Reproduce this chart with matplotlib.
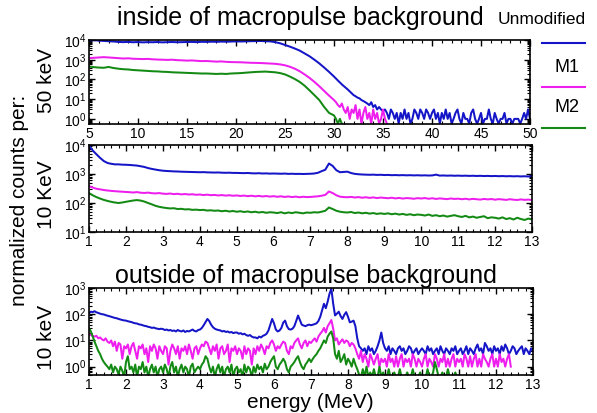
import numpy as np
import matplotlib
matplotlib.use('Agg')
import matplotlib.pyplot as plt
from matplotlib.ticker import MultipleLocator, LogLocator, NullFormatter
from matplotlib.lines import Line2D

plt.rcParams['font.family'] = ['Liberation Sans', 'DejaVu Sans']
plt.rcParams['mathtext.fontset'] = 'custom'
plt.rcParams['mathtext.rm'] = 'Liberation Sans'
plt.rcParams['mathtext.it'] = 'Liberation Sans:italic'
plt.rcParams['mathtext.bf'] = 'Liberation Sans:bold'

# ---------------- data ----------------
series_names = ['Unmodified', 'M1', 'M2']
series_colors = ['#1515c8', '#ee1eee', '#138a13']

# Top panel (inside macropulse, 50 keV bins): coarse part 5-29.5 MeV, fine part from 30 MeV
top_coarse_start, top_coarse_step = 5.0, 0.5
top_fine_start, top_fine_step = 30.0, 0.2

top_unmod_coarse = [9500, 9800, 9300, 9000, 8800, 8400, 8000, 7800, 8000, 7700,
                    7900, 7600, 7800, 7700, 7900, 7600, 7800, 7900, 7700, 7800,
                    7900, 8000, 7800, 8100, 8000, 8200, 8100, 8300, 8200, 8400,
                    8500, 8400, 8600, 8700, 8800, 8900, 8700, 8500, 7800, 6800,
                    5600, 4600, 3700, 2900, 2100, 1500, 1000, 650, 400, 240]
top_unmod_fine = [140, 110, 88, 70, 56, 46, 38, 31, 25, 20,
                  16, 14, 12, 11, 9, 8, 7, 6, 5, 7,
                  4, 5, 3, 4, 3, 2.5, 3, 2, 1, 3,
                  2, 1, 2, 0.57, 2, 1, 3, 1, 2, 0.57,
                  1, 3, 2, 1, 3, 2, 1, 3, 2, 1,
                  2, 3, 1, 2, 0.57, 2, 1, 3, 1, 2,
                  0.57, 1, 2, 3, 1, 0.57, 2, 1, 1, 0.57,
                  2, 3, 1, 0.57, 1, 2, 0.57, 1, 1, 3,
                  1, 0.57, 2, 1, 0.57, 1, 1, 2, 0.57, 1,
                  1, 0.57, 1, 1, 1, 0.57, 1, 2, 1, 3,
                  1]
top_m1_coarse = [1200, 1250, 1300, 1350, 1300, 1250, 1200, 1150, 1180, 1120,
                 1100, 1080, 1100, 1050, 1020, 1000, 980, 1000, 950, 930,
                 900, 920, 880, 850, 860, 830, 800, 820, 780, 760,
                 750, 740, 720, 700, 690, 680, 660, 640, 620, 580,
                 520, 440, 350, 260, 180, 120, 75, 45, 26, 15]
top_m1_fine = [9, 7, 5, 4, 6, 3, 2, 4, 1, 3,
               2, 5, 1, 3, 0.57, 2, 4, 1, 2, 0.57,
               3, 1, 2, 0.57, 1, 3, 1, 0.57]
top_m2_coarse = [450, 420, 400, 390, 430, 380, 350, 330, 320, 300,
                 290, 280, 270, 260, 255, 245, 240, 230, 225, 220,
                 215, 210, 205, 200, 200, 195, 190, 195, 190, 200,
                 205, 210, 220, 230, 240, 245, 250, 240, 230, 210,
                 180, 140, 105, 75, 48, 28, 16, 9, 4, 2]
top_m2_fine = [1.5, 1, 0.57, 1, 0.57]

# Middle panel (inside macropulse, 10 keV bins), 1-13 MeV at 0.1 MeV
mid_start, mid_step = 1.0, 0.1
mid_unmod = [9500, 6500, 4800, 3600, 2800, 2400, 2250, 2150, 2150, 2100,
             2080, 2050, 2000, 1950, 1850, 1750, 1600, 1500, 1420, 1350,
             1300, 1270, 1250, 1230, 1220, 1200, 1190, 1180, 1170, 1160,
             1150, 1160, 1140, 1130, 1120, 1130, 1110, 1100, 1110, 1090,
             1090, 1080, 1070, 1085, 1060, 1050, 1065, 1040, 1050, 1030,
             1040, 1030, 1020, 1035, 1010, 1020, 1005, 1010, 1000, 1010,
             1020, 1040, 1100, 1250, 1400, 2300, 1900, 1350, 1150, 1180,
             1200, 1080, 1010, 980, 960, 950, 940, 950, 930, 940,
             920, 930, 910, 920, 905, 915, 900, 910, 895, 905,
             890, 900, 885, 895, 950, 880, 890, 875, 885, 870,
             880, 865, 875, 860, 870, 855, 865, 850, 860, 845,
             855, 840, 850, 835, 845, 830, 840, 825, 835, 820,
             850]
mid_m1 = [380, 340, 310, 295, 280, 270, 262, 255, 250, 245,
          240, 236, 230, 238, 226, 222, 228, 218, 214, 220,
          210, 206, 212, 202, 208, 198, 204, 196, 200, 192,
          196, 188, 194, 186, 190, 182, 188, 180, 185, 178,
          182, 175, 180, 172, 178, 170, 176, 168, 174, 166,
          172, 164, 170, 162, 168, 160, 166, 158, 164, 160,
          162, 166, 170, 178, 190, 250, 220, 185, 165, 160,
          158, 162, 155, 160, 152, 158, 150, 156, 148, 154,
          150, 146, 152, 144, 150, 142, 148, 145, 140, 147,
          143, 148, 140, 146, 138, 144, 140, 136, 143, 138,
          141, 135, 140, 133, 139, 135, 131, 138, 133, 137,
          130, 136, 132, 128, 135, 130, 127, 133, 128, 131,
          126]
mid_m2 = [220, 185, 160, 142, 128, 118, 110, 104, 100, 104,
          110, 116, 122, 126, 121, 112, 100, 90, 80, 74,
          70, 67, 65, 66, 62, 63, 60, 61, 58, 59,
          57, 58, 55, 56, 54, 55, 52, 54, 51, 53,
          50, 52, 49, 51, 48, 50, 47, 49, 46, 48,
          47, 45, 48, 44, 47, 45, 48, 46, 44, 47,
          46, 48, 47, 50, 54, 70, 62, 54, 50, 48,
          47, 49, 45, 47, 44, 46, 43, 45, 42, 44,
          42, 44, 41, 43, 40, 42, 39, 41, 38, 40,
          39, 37, 40, 36, 38, 35, 37, 34, 36, 38,
          35, 33, 36, 32, 34, 31, 33, 35, 30, 32,
          31, 29, 32, 28, 30, 27, 31, 28, 26, 29,
          27]

# Bottom panel (outside macropulse, 10 keV bins), from 1 MeV at 0.05 MeV
bot_start, bot_step = 1.0, 0.05
bot_unmod = [110, 125, 120, 130, 118, 112, 105, 100, 98, 92, 88, 85, 80, 76, 72, 70, 66, 63, 60, 58,
             57, 54, 52, 50, 47, 45, 44, 41, 40, 38, 36, 35, 33, 32, 30, 31, 29, 28, 27, 28,
             27, 25, 26, 24, 25, 23, 24, 22, 25, 23, 22, 24, 21, 23, 22, 24, 26, 23, 22, 25,
             26, 30, 38, 50, 66, 55, 40, 32, 28, 26, 25, 24, 22, 23, 21, 22, 20, 21, 19, 20,
             20, 18, 19, 17, 18, 16, 15, 16, 14, 13, 13, 12, 14, 13, 15, 16, 18, 24, 40, 66,
             45, 26, 22, 24, 30, 48, 57, 35, 27, 26, 28, 35, 55, 89, 60, 40, 37, 35, 38, 40,
             38, 40, 42, 45, 55, 80, 140, 250, 170, 300, 600, 940, 250, 90, 105, 125, 85, 66, 95, 120,
             80, 49, 52, 57, 35, 12, 6, 5, 4, 5, 3, 6, 4, 5, 3, 4, 6, 10, 20, 8,
             5, 4, 6, 3, 5, 4, 3, 5, 6, 4, 5, 3, 4, 6, 5, 3, 4, 5, 3, 4,
             5, 4, 3, 6, 4, 5, 3, 4, 5, 3, 6, 4, 3, 5, 4, 3, 5, 4, 6, 3,
             4, 5, 3, 4, 6, 3, 5, 4, 3, 5, 7, 4, 5, 3, 8, 6, 4, 5, 3, 6,
             4, 5, 3, 6, 4, 7, 5, 3, 4, 6, 5, 3, 4, 5, 6, 3, 5, 4, 3, 5,
             4]
bot_m1 = [18, 16, 15, 14, 15, 12, 13, 11, 10, 12, 9, 8, 10, 6, 9, 4, 8, 7, 2, 6,
          5, 7, 3, 6, 8, 4, 2, 6, 5, 7, 3, 5, 1.5, 6, 4, 7, 5, 2, 6, 4,
          3, 6, 5, 1.2, 4, 7, 5, 3, 6, 2, 5, 4, 6, 3, 7, 4, 2, 5, 6, 3,
          5, 7, 6, 9, 8, 5, 3, 6, 4, 7, 2, 5, 6, 3, 4, 7, 1.5, 5, 4, 6,
          3, 5, 4, 2, 6, 3, 5, 4, 1.2, 5, 3, 6, 4, 7, 5, 3, 6, 5, 8, 10,
          7, 4, 6, 5, 7, 9, 8, 4, 3, 6, 5, 8, 10, 12, 7, 5, 8, 10, 6, 9,
          8, 10, 12, 9, 14, 18, 22, 30, 20, 35, 45, 60, 28, 10, 12, 7, 9, 11, 8, 10,
          9, 6, 8, 7, 5, 3, 2, 4, 1.5, 3, 2, 1, 3, 2, 1.2, 2, 3, 1, 2, 1.5,
          2, 1, 3, 1.5, 2, 1, 2.5, 1, 2, 3, 1, 2, 1.5, 2, 1, 3, 2, 1, 2, 1.5,
          1, 2, 3, 1, 2, 1.5, 1, 3, 2, 1, 2, 1.5, 3, 1, 2, 1, 2, 3, 1, 2,
          1.5, 2, 1, 3, 2, 1, 2.5, 1, 2, 3, 1, 2, 1, 3, 2, 1.5, 1, 2, 3, 1,
          2, 1, 3, 1.5, 2, 1, 2, 3, 1]
bot_m2 = [30, 22, 14, 9, 6, 4, 3, 2, 1.5, 1.2, 1, 0.8, 1.2, 0.6, 1, 0.8, 0.5, 1, 0.7, 0.4,
          1.5, 2.5, 0.8, 1, 0.6, 1.2, 0.4, 1, 0.8, 1.5, 0.6, 1, 0.4, 0.8, 1.2, 0.6, 1, 0.4, 0.8, 1,
          0.6, 1.2, 0.8, 0.4, 1, 1.5, 0.6, 1, 0.4, 0.8, 1.2, 0.6, 1, 0.8, 0.4, 1, 1.3, 0.6, 0.8, 1,
          0.8, 1.2, 1.5, 2.5, 2, 1, 0.6, 1, 0.4, 0.8, 1.2, 0.6, 1, 0.4, 0.8, 1, 0.6, 1.2, 0.4, 0.8,
          1, 0.6, 0.8, 0.4, 1.2, 0.6, 1, 0.8, 0.4, 1, 0.6, 1.2, 0.8, 1, 0.6, 1.3, 0.8, 1, 1.5, 2,
          2.5, 1, 0.8, 1.2, 1.5, 2, 1.5, 0.8, 0.6, 1, 1.2, 1.5, 2, 2.5, 1.5, 1, 0.8, 1.2, 1.5, 2,
          1.5, 2, 2.5, 3, 4, 5, 7, 10, 8, 14, 18, 22, 12, 3, 2, 4, 1.5, 2, 3, 1.2,
          2, 1.5, 1, 2, 1.2, 0.8, 0.5, 0.4, 0.8, 0.4, 1, 0.4, 0.6, 0.4, 0.8, 0.4, 0.4, 1, 0.4, 0.6,
          0.4, 0.4, 0.8, 0.4, 0.4, 0.6, 0.4, 0.4, 0.8, 0.4, 0.4, 0.4, 0.6, 0.4, 0.4, 0.8, 0.4, 0.4, 0.4, 0.6,
          0.4, 0.4, 0.4, 0.8, 0.4, 0.4, 0.6, 1.5, 0.8, 0.4, 0.4, 0.6, 0.4, 0.4, 0.8, 0.4, 0.4, 0.4, 0.6, 0.4]

top_title = 'inside of macropulse background'
bot_title = 'outside of macropulse background'
y_common = 'normalized counts per:'
y_labels = ['50 keV', '10 KeV', '10 keV']
x_label = 'energy (MeV)'

# ---------------- figure ----------------
W, H = 597, 413
fig = plt.figure(figsize=(W / 100, H / 100), dpi=100)

def fr(x0, y0, x1, y1):
    return [x0 / W, 1 - y1 / H, (x1 - x0) / W, (y1 - y0) / H]

ax_top = fig.add_axes(fr(89, 40, 530, 124))
ax_mid = fig.add_axes(fr(89, 145, 532, 232))
ax_bot = fig.add_axes(fr(89, 288, 533, 375))

def grid(start, step, vals):
    return start + step * np.arange(len(vals))

lw = 1.45
top_sets = [(top_unmod_coarse, top_unmod_fine), (top_m1_coarse, top_m1_fine), (top_m2_coarse, top_m2_fine)]
for (c, f), col in zip(top_sets, series_colors):
    x = np.concatenate([grid(top_coarse_start, top_coarse_step, c), grid(top_fine_start, top_fine_step, f)])
    y = np.concatenate([c, f])
    ax_top.plot(x, y, color=col, lw=lw)

for vals, col in zip([mid_unmod, mid_m1, mid_m2], series_colors):
    ax_mid.plot(grid(mid_start, mid_step, vals), vals, color=col, lw=lw)

for vals, col in zip([bot_unmod, bot_m1, bot_m2], series_colors):
    ax_bot.plot(grid(bot_start, bot_step, vals), vals, color=col, lw=lw)

ax_top.set_xlim(5, 50)
ax_top.set_ylim(0.55, 1e4)
ax_top.xaxis.set_major_locator(MultipleLocator(5))
ax_top.xaxis.set_minor_locator(MultipleLocator(1))

ax_mid.set_xlim(1, 13)
ax_mid.set_ylim(10, 1e4)
ax_bot.set_xlim(1, 13)
ax_bot.set_ylim(0.48, 1e3)
for ax in (ax_mid, ax_bot):
    ax.xaxis.set_major_locator(MultipleLocator(1))
    ax.xaxis.set_minor_locator(MultipleLocator(0.2))

for ax in (ax_top, ax_mid, ax_bot):
    ax.set_yscale('log')
    ax.yaxis.set_major_locator(LogLocator(base=10, numticks=10))
    ax.yaxis.set_minor_locator(LogLocator(base=10, subs=np.arange(2, 10), numticks=10))
    ax.yaxis.set_minor_formatter(NullFormatter())
    ax.tick_params(which='both', direction='in', top=True, right=True, labelsize=10, pad=2)
    ax.tick_params(which='major', length=4, width=1)
    ax.tick_params(which='minor', length=2.5, width=0.8)
    for s in ax.spines.values():
        s.set_linewidth(1.2)

# titles and labels
fig.text(300 / W, 1 - 25 / H, top_title, ha='center', va='baseline', fontsize=18)
fig.text(306 / W, 1 - 283 / H, bot_title, ha='center', va='baseline', fontsize=18)
fig.text(20 / W, 1 - 200 / H, y_common, rotation=90, ha='center', va='center', fontsize=15)
for lab, yc in zip(y_labels, [80, 195, 337]):
    fig.text(46 / W, 1 - yc / H, lab, rotation=90, ha='center', va='center', fontsize=15)
fig.text(310 / W, 1 - 402 / H, x_label, ha='center', va='center', fontsize=15)

# legend: label above its line
leg_text_y = [20, 67, 107]
leg_line_y = [43, 87, 128]
leg_text_x = [542, 567, 567]
leg_sizes = [12.5, 13, 13]
for name, col, ty, ly, tx, fs in zip(series_names, series_colors, leg_text_y, leg_line_y, leg_text_x, leg_sizes):
    fig.text(tx / W, 1 - ty / H, name, ha='center', va='center', fontsize=fs)
    fig.add_artist(Line2D([542 / W, 585 / W], [1 - ly / H] * 2, color=col, lw=1.5,
                          transform=fig.transFigure))

fig.savefig('out.png', dpi=100)
